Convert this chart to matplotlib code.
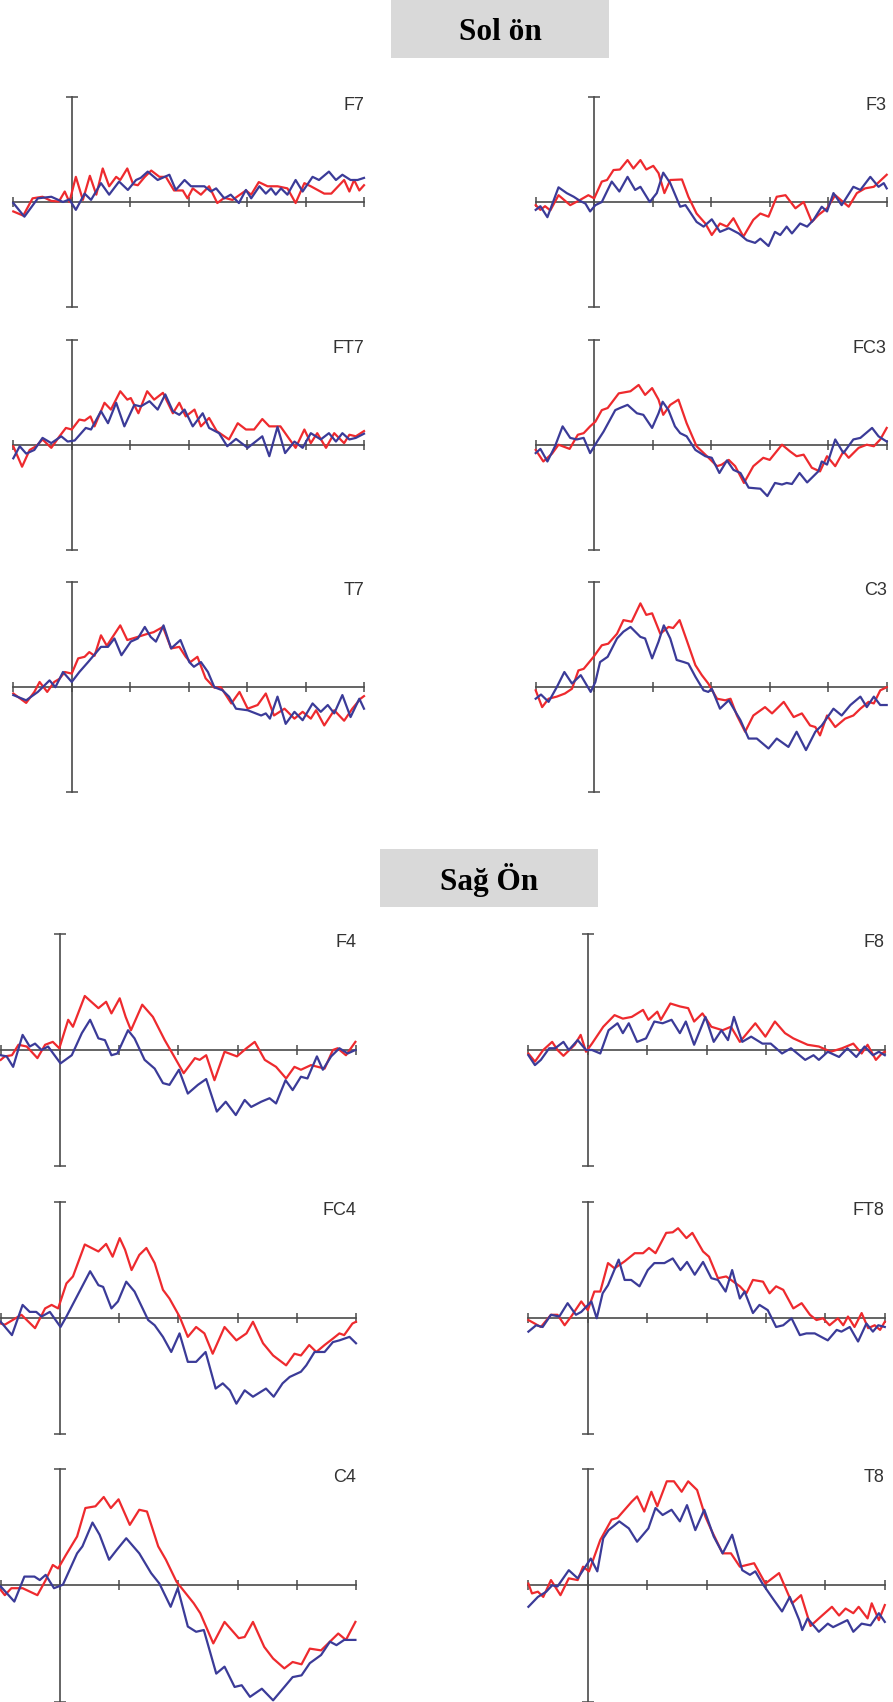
import matplotlib
matplotlib.use("Agg")
import matplotlib.pyplot as plt
from matplotlib.patches import Rectangle

# ---------------- data (time in ms, amplitude in axis units, axis = +/-10) ----------------
SECTION_TITLES = ["Sol ön", "Sağ Ön"]
SECTION1_NAMES = ["F7", "F3", "FT7", "FC3", "T7", "C3"]
SECTION2_NAMES = ["F4", "F8", "FC4", "FT8", "C4", "T8"]
X_TICKS = [-100, 0, 100, 200, 300, 400, 500]
Y_TICKS = [-10, 10]

F7_red_t = [-100,-83,-67,-50,-35,-22,-12,-4,7,19,31,42,53,64,76,83,95,105,113,125,136,150,161,175,190,198,207,221,235,249,261,275,298,307,320,335,352,369,383,398,409,432,444,466,475,483,492,500]
F7_red_v = [-0.9,-1.3,0.35,0.5,0.1,0.05,1.0,0.0,2.4,0.2,2.5,0.7,3.2,1.5,2.4,2.1,3.2,1.7,1.6,2.4,3.0,2.4,2.4,1.1,1.1,0.35,1.3,0.7,1.5,-0.1,0.4,0.2,1.1,0.7,1.9,1.5,1.5,1.3,-0.1,1.8,1.5,0.8,0.8,2.1,1.0,2.1,1.1,1.6]
F7_blue_t = [-100,-81,-58,-35,-15,-4,7,22,33,50,64,81,96,110,118,130,147,167,178,193,204,227,238,247,261,272,286,298,307,321,332,341,349,358,369,383,395,412,423,440,452,463,477,489,500]
F7_blue_v = [-0.1,-1.4,0.35,0.5,0.0,0.25,-0.75,0.8,0.2,1.8,0.7,1.95,1.15,2.1,2.3,2.9,2.1,2.6,1.15,2.1,1.5,1.5,1.0,1.3,0.35,0.7,-0.1,1.15,0.35,1.5,0.8,1.3,0.7,1.3,0.7,2.1,1.0,2.4,2.1,2.9,2.1,2.6,2.1,2.1,2.3]

F3_red_t = [-100,-92,-84,-75,-61,-41,-24,-10,0,13,22,33,44,57,67,79,89,101,110,120,130,150,161,175,190,201,215,227,238,255,272,284,298,312,327,344,358,372,383,398,412,435,449,463,478,500]
F3_red_v = [-0.3,-0.75,-0.4,-0.8,0.65,-0.3,0.2,0.65,0.35,1.95,2.1,3.05,3.1,4.0,3.2,4.0,3.1,3.45,2.75,0.85,2.1,2.15,0.5,-1.1,-2.05,-3.15,-2.05,-2.35,-1.55,-3.3,-1.7,-1.1,-1.4,0.5,0.65,-0.6,0.0,-1.9,-1.25,-0.6,0.65,-0.45,0.85,1.3,1.45,2.6]
F3_blue_t = [-100,-92,-80,-61,-47,-35,-24,-15,-7,2,13,30,43,57,70,79,95,107,118,130,147,156,175,187,201,215,230,247,261,275,284,298,309,318,329,338,352,364,375,389,398,409,423,443,455,472,486,495,500]
F3_blue_v = [-0.75,-0.4,-1.45,1.4,0.85,0.5,0.1,-0.15,-0.9,-0.3,0.0,1.95,1.0,2.4,1.15,1.45,0.0,0.85,2.8,1.8,-0.45,-0.3,-1.9,-2.35,-1.65,-2.85,-2.5,-3.0,-3.65,-3.9,-3.5,-4.2,-2.85,-3.15,-2.35,-3.0,-2.05,-2.35,-1.7,-0.45,-0.9,0.85,-0.3,1.45,1.15,2.4,1.45,1.8,1.3]

FT7_red_t = [-100,-85,-72,-61,-50,-35,-21,-10,0,13,22,32,39,56,67,83,95,101,114,129,141,156,173,184,195,210,221,235,248,269,284,298,312,326,338,357,369,383,398,409,420,435,449,466,475,486,500]
FT7_red_v = [-0.15,-2.1,-0.5,-0.15,0.5,-0.3,0.8,1.6,1.45,2.4,2.3,2.7,1.75,4.0,3.35,5.1,4.3,4.45,3.0,5.1,4.3,4.95,3.0,4.0,2.7,3.35,1.75,2.55,1.3,0.5,2.05,1.45,1.45,2.45,1.75,1.75,0.8,-0.3,1.45,0.15,1.1,-0.3,1.1,0.15,0.95,0.8,1.3]
FT7_blue_t = [-100,-89,-78,-64,-50,-35,-18,-7,5,24,33,50,62,76,90,107,118,133,147,160,173,184,193,207,224,235,252,266,281,301,326,338,352,365,381,395,409,426,440,452,463,475,486,500]
FT7_blue_v = [-1.3,-0.15,-0.85,-0.5,0.65,0.15,0.8,0.3,0.4,1.6,1.45,3.2,2.05,4.0,1.75,3.8,3.65,4.15,3.35,4.8,3.2,2.85,3.35,1.75,3.0,1.6,1.1,-0.15,0.55,-0.3,0.8,-1.1,1.7,-0.8,0.3,-0.3,1.1,0.5,1.1,0.3,1.1,0.5,0.65,1.05]

FC3_red_t = [-100,-87,-72,-61,-42,-28,-18,-7,2,13,23,42,62,76,87,99,110,118,130,144,158,175,190,210,218,230,241,256,272,289,300,321,335,346,358,372,386,398,412,426,435,452,466,478,489,500]
FC3_red_v = [-0.5,-1.6,-0.85,0.0,-0.4,0.95,1.1,1.75,2.2,3.3,3.5,4.9,5.1,5.7,4.75,5.4,4.3,2.85,3.8,4.3,2.05,-0.15,-0.95,-2.05,-1.9,-1.45,-2.05,-3.65,-2.05,-1.25,-1.45,0.0,-0.65,-1.1,-0.95,-2.2,-2.55,-1.1,-2.05,-0.65,-1.25,-0.3,0.0,-0.15,0.5,1.6]
FC3_blue_t = [-100,-92,-80,-67,-54,-41,-30,-18,-7,5,16,36,44,57,73,84,99,110,117,127,138,147,158,173,190,201,214,227,238,250,264,284,296,309,321,329,338,351,364,383,389,398,412,426,443,455,475,486,500]
FC3_blue_v = [-0.8,-0.4,-1.6,-0.15,1.75,0.65,0.5,0.65,-0.8,0.3,1.25,3.3,3.5,3.8,3.0,2.85,1.6,3.0,4.1,3.3,1.75,1.1,0.8,-0.5,-1.1,-1.25,-2.7,-1.5,-2.4,-2.7,-4.1,-4.2,-4.9,-3.65,-3.8,-3.65,-3.75,-2.7,-3.6,-2.55,-1.6,-1.9,0.5,-0.8,0.5,0.65,1.6,0.8,0.3]

T7_red_t = [-100,-78,-64,-55,-42,-30,-21,-12,0,11,22,30,39,50,60,70,83,95,113,130,140,156,170,184,195,203,215,229,244,255,273,287,301,318,332,346,364,381,395,409,418,432,449,466,480,494,500]
T7_red_v = [-0.6,-1.5,-0.45,0.5,-0.45,0.5,0.8,1.45,1.3,2.75,2.9,3.35,3.0,4.95,3.95,4.8,5.9,4.5,4.8,5.1,5.25,5.75,3.7,3.85,2.9,2.4,2.9,0.85,-0.05,0.0,-1.55,-0.45,-2.05,-1.7,-0.6,-2.7,-2.05,-3.0,-2.35,-3.0,-2.2,-3.65,-2.2,-3.2,-2.05,-1.1,-0.85]
T7_blue_t = [-100,-78,-58,-38,-28,-15,0,13,28,50,62,73,85,101,113,125,135,144,157,170,186,201,209,221,233,244,258,269,281,301,324,332,339,352,366,381,395,412,426,438,449,463,477,492,500]
T7_blue_v = [-0.75,-1.25,-0.45,0.65,0.0,1.45,0.5,1.45,2.4,3.85,3.85,4.65,3.05,4.35,4.65,5.75,4.8,4.35,5.9,3.7,4.5,2.4,1.95,2.4,1.45,0.0,-0.3,-0.9,-2.05,-2.2,-2.7,-2.5,-3.0,-0.9,-3.5,-2.35,-3.15,-1.55,-2.35,-1.7,-2.5,-0.75,-2.85,-1.1,-2.05]

C3_red_t = [-100,-89,-78,-64,-50,-38,-27,-18,-1,13,24,39,50,64,79,89,99,113,127,135,146,158,173,184,195,210,224,233,244,258,272,292,304,324,341,355,369,378,386,398,412,429,443,455,469,478,489,500]
C3_red_v = [-0.3,-1.9,-1.1,-0.9,-0.6,-0.15,1.6,1.75,2.9,4.0,4.15,5.1,6.4,6.25,8.0,6.9,7.05,5.1,5.75,5.65,6.4,4.5,2.1,1.15,0.35,-1.1,-1.25,-1.1,-2.7,-4.25,-2.7,-1.9,-2.5,-1.4,-2.85,-2.5,-3.65,-3.8,-4.6,-2.7,-3.8,-3.0,-2.7,-2.05,-1.4,-1.55,-0.3,0.0]
C3_blue_t = [-100,-91,-78,-64,-51,-38,-23,-6,2,10,23,39,50,62,79,87,99,110,119,130,141,153,161,173,187,195,201,215,230,250,264,278,298,312,332,346,362,378,389,409,423,438,455,466,478,489,500]
C3_blue_v = [-1.1,-0.7,-1.4,0.0,1.45,0.35,1.15,-0.45,0.5,2.4,2.9,4.65,5.3,5.75,4.8,4.65,2.75,4.35,5.9,4.65,2.6,2.4,2.25,1.0,-0.3,-0.45,-0.15,-2.05,-1.25,-3.15,-4.9,-4.9,-5.85,-4.9,-5.7,-4.25,-6.0,-4.25,-3.65,-2.05,-2.7,-1.7,-0.9,-1.9,-0.9,-1.7,-1.7]

F4_red_t = [-100,-93,-81,-70,-56,-38,-25,-12,-1,14,22,42,65,78,87,101,111,120,139,157,177,190,209,228,236,247,261,278,299,315,329,346,365,382,396,407,424,447,461,469,483,499]
F4_red_v = [-0.85,-0.55,-0.45,0.45,0.3,-0.7,0.45,0.7,0.15,2.6,2.0,4.65,3.6,4.15,3.15,4.45,2.85,1.7,3.9,2.85,0.85,-0.3,-2.0,-0.7,-0.85,-0.45,-2.6,-0.15,-0.55,0.15,0.7,-0.85,-1.45,-2.45,-1.45,-1.7,-1.3,-1.6,0.0,0.15,-0.45,0.7]
F4_blue_t = [-100,-90,-79,-63,-51,-42,-31,-20,1,20,37,51,65,76,87,97,115,126,143,160,174,185,201,216,233,247,265,280,297,312,323,340,354,365,381,393,407,418,434,444,458,472,486,499]
F4_blue_v = [-0.45,-0.55,-1.45,1.3,0.3,0.55,0.0,0.3,-1.15,-0.45,1.45,2.6,1.0,0.85,-0.45,-0.3,1.7,1.0,-0.85,-1.6,-2.85,-3.0,-1.7,-3.75,-3.0,-2.5,-5.3,-4.45,-5.6,-4.3,-4.9,-4.45,-4.15,-4.6,-2.6,-3.45,-2.3,-2.45,-0.55,-1.7,-0.55,0.15,-0.3,0.0]

F8_red_t = [-100,-89,-75,-60,-51,-41,-22,-12,-3,7,26,45,59,74,93,102,117,123,139,155,169,179,193,208,227,241,256,282,299,315,332,346,370,389,409,428,447,461,471,485,495,500]
F8_red_v = [-0.3,-1.0,0.0,0.7,0.0,-0.5,0.45,1.3,-0.15,0.55,2.0,3.0,2.7,2.85,3.45,2.6,3.3,2.6,4.0,3.75,3.6,2.45,3.15,2.0,1.7,2.0,0.7,2.3,1.15,2.45,1.45,1.0,0.45,0.3,-0.15,0.15,0.55,-0.3,0.45,-0.85,-0.3,-0.15]
F8_blue_t = [-100,-89,-79,-65,-55,-41,-32,-17,-3,7,21,35,50,59,69,83,98,112,126,141,155,165,179,198,212,225,236,246,260,275,294,308,327,342,366,380,389,404,423,437,452,466,480,490,500]
F8_blue_v = [-0.45,-1.3,-0.85,0.15,0.15,0.7,0.0,0.85,0.0,0.0,-0.3,1.7,2.3,1.45,2.3,0.7,1.0,2.45,2.3,2.6,1.45,2.45,0.45,2.85,0.7,1.7,0.85,2.85,0.7,1.15,0.55,0.55,-0.3,0.15,-0.85,-0.45,-0.85,-0.15,-0.6,0.15,-0.6,0.3,-0.45,-0.15,-0.45]

FC4_red_t = [-100,-93,-65,-42,-25,-14,-3,11,22,42,65,78,89,101,110,121,134,146,160,174,185,202,216,230,244,258,278,298,315,326,343,360,382,396,407,421,433,447,461,472,480,494,500]
FC4_red_v = [-0.5,-0.6,0.25,-0.9,0.8,1.1,0.8,2.95,3.55,6.3,5.7,6.35,5.25,6.85,5.85,4.1,5.4,6.0,4.7,2.4,1.65,0.1,-1.65,-0.8,-1.35,-3.1,-0.8,-1.95,-1.35,-0.35,-2.2,-3.25,-4.1,-3.1,-3.25,-2.35,-2.95,-2.35,-1.8,-1.35,-1.5,-0.5,-0.35]
FC4_blue_t = [-100,-81,-63,-51,-40,-31,-17,1,11,51,65,73,87,98,112,126,149,160,174,188,202,216,230,246,263,275,287,298,312,326,348,361,376,388,407,416,430,447,461,472,489,500]
FC4_blue_v = [-0.35,-1.5,1.1,0.5,0.5,0.1,0.5,-0.8,0.1,4.0,2.8,2.65,0.8,1.4,3.1,2.25,-0.2,-0.65,-1.65,-2.95,-1.35,-3.8,-3.8,-2.95,-6.1,-5.65,-6.25,-7.4,-6.25,-6.8,-6.1,-6.8,-5.65,-5.1,-4.65,-4.1,-2.95,-2.95,-2.1,-1.95,-1.65,-2.2]

FT8_red_t = [-100,-79,-62,-51,-39,-28,-11,0,11,21,34,45,62,79,93,103,114,132,143,152,166,176,194,204,219,233,256,267,278,295,306,317,329,346,360,374,385,396,407,421,430,438,449,461,472,483,492,500]
FT8_red_v = [-0.2,-0.8,0.25,0.25,-0.65,0.1,1.4,0.65,2.25,2.25,4.7,4.25,4.85,5.55,5.55,6.0,5.55,7.3,7.35,7.7,6.85,7.3,5.7,5.25,3.4,3.55,2.7,2.1,3.25,3.1,2.1,2.7,2.4,0.8,1.25,0.25,-0.2,-0.05,-0.65,-0.05,-0.65,0.1,-0.8,0.4,-0.9,-0.65,-1.05,-0.35]
FT8_blue_t = [-100,-87,-76,-62,-48,-34,-20,-11,6,15,25,34,52,62,73,87,101,112,129,143,156,167,180,194,208,219,232,243,256,264,278,289,303,317,329,343,357,368,382,393,404,419,427,441,455,469,480,489,500]
FT8_blue_v = [-1.2,-0.65,-0.8,0.25,0.1,1.25,0.25,0.5,1.4,-0.05,2.1,2.8,5.0,3.25,3.25,2.7,4.1,4.7,4.7,5.1,4.1,4.8,3.7,4.8,3.4,3.25,2.25,4.1,1.65,2.25,0.4,1.1,0.65,-0.8,-0.65,-0.05,-1.5,-1.35,-1.35,-1.65,-1.95,-1.05,-1.2,-0.8,-2.05,-0.5,-1.2,-0.65,-0.8]

C4_red_t = [-100,-93,-82,-63,-38,-24,-12,-3,10,29,43,60,74,86,99,118,134,147,166,179,197,226,237,259,278,302,312,326,345,360,379,393,408,422,441,470,483,499]
C4_red_v = [-0.4,-0.85,-0.25,-0.25,-0.85,0.45,1.75,1.45,2.6,4.2,6.65,6.8,7.6,6.65,7.4,5.2,6.5,6.35,3.35,2.2,0.3,-1.55,-2.4,-5.0,-3.15,-4.55,-4.45,-3.15,-5.3,-6.3,-7.15,-6.6,-6.8,-5.45,-5.6,-4.15,-4.7,-3.15]
C4_blue_t = [-100,-77,-60,-43,-34,-24,-10,5,29,38,55,67,83,96,112,134,154,168,187,199,216,230,243,264,278,295,307,321,341,360,379,393,408,422,441,456,467,480,499]
C4_blue_v = [-0.1,-1.4,0.75,0.75,0.45,0.9,-0.25,0.05,2.75,3.35,5.4,4.35,2.2,3.05,4.05,2.75,1.05,0.15,-1.85,-0.25,-3.55,-4.0,-3.85,-7.6,-7.0,-8.75,-8.6,-9.6,-8.9,-9.9,-8.75,-7.9,-7.75,-6.7,-6.0,-4.85,-5.15,-4.7,-4.7]

T8_red_t = [-100,-94,-84,-75,-62,-46,-32,-17,-8,2,21,40,50,74,83,95,107,117,133,145,158,169,184,198,208,227,241,256,280,299,322,344,359,375,389,411,423,434,447,456,471,478,490,500]
T8_red_v = [0.15,-0.7,-0.55,-1.0,0.45,-0.85,0.6,0.45,1.6,1.2,3.9,5.65,5.8,7.2,7.65,6.35,8.05,6.8,8.95,8.95,8.05,8.95,8.2,5.9,4.75,2.75,2.75,1.6,1.9,0.15,1.05,-1.55,-0.85,-3.5,-2.85,-1.85,-2.6,-2.0,-2.4,-1.85,-2.85,-1.55,-3.0,-1.7]
T8_blue_t = [-100,-84,-70,-60,-51,-32,-17,5,16,26,35,53,69,83,102,114,126,141,155,167,181,196,212,227,243,260,273,282,294,313,327,340,356,361,370,389,404,413,437,447,461,476,490,500]
T8_blue_v = [-1.85,-1.0,-0.55,0.0,-0.1,1.3,0.6,2.3,1.2,4.05,4.75,5.5,4.9,3.75,4.9,6.65,6.05,6.5,5.5,6.9,4.75,6.5,4.2,2.75,4.35,1.3,0.9,1.2,0.15,-1.25,-2.25,-1.0,-3.0,-3.85,-2.85,-4.0,-3.3,-3.6,-3.0,-4.0,-3.3,-3.45,-2.4,-3.15]

SERIES = {
    "F7": (F7_red_t, F7_red_v, F7_blue_t, F7_blue_v),
    "F3": (F3_red_t, F3_red_v, F3_blue_t, F3_blue_v),
    "FT7": (FT7_red_t, FT7_red_v, FT7_blue_t, FT7_blue_v),
    "FC3": (FC3_red_t, FC3_red_v, FC3_blue_t, FC3_blue_v),
    "T7": (T7_red_t, T7_red_v, T7_blue_t, T7_blue_v),
    "C3": (C3_red_t, C3_red_v, C3_blue_t, C3_blue_v),
    "F4": (F4_red_t, F4_red_v, F4_blue_t, F4_blue_v),
    "F8": (F8_red_t, F8_red_v, F8_blue_t, F8_blue_v),
    "FC4": (FC4_red_t, FC4_red_v, FC4_blue_t, FC4_blue_v),
    "FT8": (FT8_red_t, FT8_red_v, FT8_blue_t, FT8_blue_v),
    "C4": (C4_red_t, C4_red_v, C4_blue_t, C4_blue_v),
    "T8": (T8_red_t, T8_red_v, T8_blue_t, T8_blue_v),
}
for k, (rt, rv, bt, bv) in SERIES.items():
    if len(rt) != len(rv) or len(bt) != len(bv):
        raise ValueError(f"length mismatch in {k}: {len(rt)}/{len(rv)} {len(bt)}/{len(bv)}")

# ---------------- layout (pixels) ----------------
W, H = 893, 1702
DPI = 100
RED = "#ee2a2e"
BLUE = "#3b3b98"
AXC = "#4a4a4a"

fig = plt.figure(figsize=(W / DPI, H / DPI), dpi=DPI)
fig.patch.set_facecolor("white")

# section layout: (names, left col x-range, right col x-range, half height, row centers)
sections = [
    (SECTION1_NAMES, (13.3, 364.0), (535.7, 886.7), 104.8, [202.0, 444.7, 687.2]),
    (SECTION2_NAMES, (0.7, 356.0), (528.4, 884.8), 116.2, [1050.0, 1317.7, 1585.3]),
]
title_boxes = [(391, 609, 0, 57.5, 40.5), (380, 598, 848.5, 906.5, 889.5)]

for (x0, x1, y0, y1, yb), title in zip(title_boxes, SECTION_TITLES):
    fig.add_artist(Rectangle((x0 / W, 1 - y1 / H), (x1 - x0) / W, (y1 - y0) / H,
                             transform=fig.transFigure, facecolor="#d9d9d9",
                             edgecolor="none", zorder=0))
    fig.text((x0 + x1) / 2 / W, 1 - yb / H, title, ha="center", va="baseline",
             fontsize=22.5, fontweight="bold", family="Liberation Serif", color="black")

for names, lcol, rcol, hh, rows in sections:
    for i, name in enumerate(names):
        xr = lcol if i % 2 == 0 else rcol
        yc = rows[i // 2]
        ax = fig.add_axes([xr[0] / W, 1 - (yc + hh) / H, (xr[1] - xr[0]) / W, 2 * hh / H])
        ax.patch.set_alpha(0)
        ax.set_xlim(-100, 500)
        ax.set_ylim(-10, 10)
        for s in ("top", "right"):
            ax.spines[s].set_visible(False)
        ax.spines["left"].set_position(("data", 0))
        ax.spines["bottom"].set_position(("data", 0))
        for s in ("left", "bottom"):
            ax.spines[s].set_color(AXC)
            ax.spines[s].set_linewidth(1.2)
        ax.set_xticks(X_TICKS)
        ax.set_yticks(Y_TICKS)
        ax.tick_params(axis="x", direction="inout", length=6.5, width=1.1, color=AXC,
                       labelbottom=False)
        ax.tick_params(axis="y", direction="inout", length=8.5, width=1.1, color=AXC,
                       labelleft=False)
        rt, rv, bt, bv = SERIES[name]
        ax.plot(rt, rv, color=RED, lw=1.6, zorder=3, clip_on=False, solid_joinstyle="round")
        ax.plot(bt, bv, color=BLUE, lw=1.6, zorder=3.1, clip_on=False, solid_joinstyle="round")
        ax.text(500, 10, name, ha="right", va="top", fontsize=13, color="#333333",
                family="Liberation Sans")

fig.savefig("out.png", dpi=DPI)
